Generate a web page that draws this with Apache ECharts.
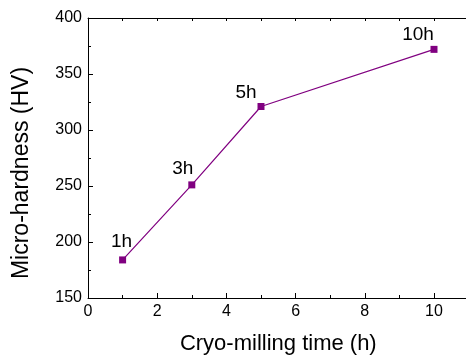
<!DOCTYPE html>
<html>
<head>
<meta charset="utf-8">
<script src="https://cdn.jsdelivr.net/npm/echarts@6/dist/echarts.min.js"></script>
<style>
  html, body { margin: 0; padding: 0; background: #fff; }
  #chart { width: 466px; height: 356px; }
</style>
</head>
<body>
<div id="chart"></div>
<script>
const times = [1, 3, 5, 10]
const hardness = [184, 251, 321, 372]
const pointLabels = ['1h', '3h', '5h', '10h']
const labelOffsets = [[-1, 0], [-9, 2], [-15, 4], [-16, 3]]

const font = 'Liberation Sans, Arial, sans-serif'
const purple = '#800080'

const chart = echarts.init(document.getElementById('chart'))

const axisCommon = {
  axisLine: { show: true, lineStyle: { color: '#000', width: 1 } },
  axisTick: { show: true, inside: true, length: 5, lineStyle: { color: '#000' } },
  minorTick: { show: true, splitNumber: 2, length: 3, lineStyle: { color: '#000' } },
  splitLine: { show: false },
  axisLabel: { color: '#000', fontSize: 16, fontFamily: font }
}

chart.setOption({
  animation: false,
  grid: { left: 88, top: 18, width: 380.6, height: 280, outerBoundsMode: 'none' },
  xAxis: [{
    ...axisCommon,
    type: 'value',
    min: 0,
    max: 11,
    interval: 2,
    name: 'Cryo-milling time (h)',
    nameLocation: 'middle',
    nameGap: 35,
    nameTextStyle: { color: '#000', fontSize: 22, fontFamily: font },
    axisLabel: { ...axisCommon.axisLabel, margin: 6, showMaxLabel: false }
  }, {
    type: 'value',
    position: 'top',
    min: 0,
    max: 11,
    interval: 1,
    axisLine: { show: true, lineStyle: { color: '#000', width: 1 } },
    axisTick: { show: true, inside: true, length: 3, lineStyle: { color: '#000' } },
    axisLabel: { show: false },
    splitLine: { show: false }
  }],
  yAxis: {
    ...axisCommon,
    type: 'value',
    min: 150,
    max: 400,
    interval: 50,
    name: 'Micro-hardness (HV)',
    nameLocation: 'middle',
    nameGap: 55,
    nameTextStyle: { color: '#000', fontSize: 23, fontFamily: font, padding: [0, 30, 0, 0] },
    axisLabel: { ...axisCommon.axisLabel, margin: 6 }
  },
  series: [{
    type: 'line',
    data: times.map((t, i) => ({
      value: [t, hardness[i]],
      label: { offset: labelOffsets[i] }
    })),
    symbol: 'rect',
    symbolSize: 7,
    itemStyle: { color: purple },
    lineStyle: { color: purple, width: 1.2 },
    label: {
      show: true,
      position: 'top',
      color: '#000',
      fontSize: 19,
      fontFamily: font,
      formatter: p => pointLabels[p.dataIndex]
    }
  }]
})
</script>
</body>
</html>
